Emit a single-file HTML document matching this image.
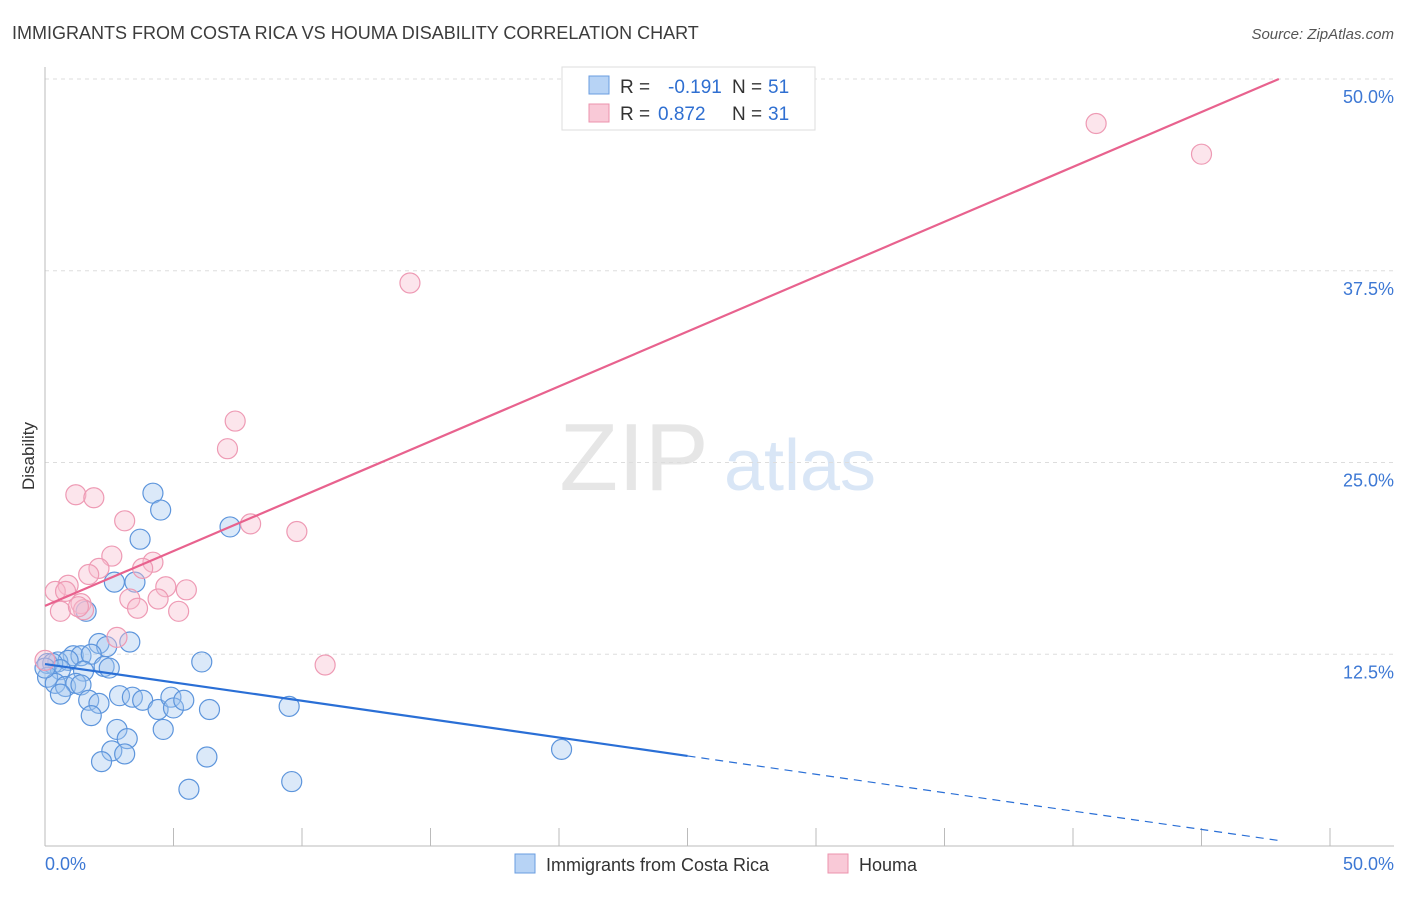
<!DOCTYPE html>
<html><head><meta charset="utf-8"><style>
body{margin:0;background:#fff;font-family:"Liberation Sans",sans-serif}
svg text{font-family:"Liberation Sans",sans-serif}
</style></head><body>
<svg id="c" width="1406" height="892" xmlns="http://www.w3.org/2000/svg">
<text x="12" y="39" font-size="18" fill="#3c3c3c">IMMIGRANTS FROM COSTA RICA VS HOUMA DISABILITY CORRELATION CHART</text>
<text x="1394" y="39" font-size="15" fill="#555" font-style="italic" text-anchor="end">Source: ZipAtlas.com</text>
<text x="634" y="490" font-size="96" fill="#e6e6e6" font-family="Liberation Serif" text-anchor="middle">ZIP</text>
<text x="800" y="490" font-size="72" fill="#d9e6f6" text-anchor="middle">atlas</text>
<text transform="translate(34,456) rotate(-90)" font-size="17" fill="#333" text-anchor="middle">Disability</text>
<g id="grid"></g><g id="axes"></g><g id="marks"></g>
<g>
<rect x="562" y="67" width="253" height="63" fill="#fff" stroke="#ddd"/>
<rect x="589" y="76" width="20" height="18" fill="#b7d3f5" stroke="#6a9de0"/>
<rect x="589" y="104" width="20" height="18" fill="#f9c9d7" stroke="#ec93ae"/>
<text x="620" y="93" font-size="19" fill="#333">R =</text>
<text x="668" y="93" font-size="19" fill="#2f6fd1">-0.191</text>
<text x="732" y="93" font-size="19" fill="#333">N =</text>
<text x="768" y="93" font-size="19" fill="#2f6fd1">51</text>
<text x="620" y="120" font-size="19" fill="#333">R =</text>
<text x="658" y="120" font-size="19" fill="#2f6fd1">0.872</text>
<text x="732" y="120" font-size="19" fill="#333">N =</text>
<text x="768" y="120" font-size="19" fill="#2f6fd1">31</text>
</g>
<g>
<rect x="515" y="854" width="20" height="19" fill="#b7d3f5" stroke="#6a9de0"/>
<text x="546" y="871" font-size="18" fill="#333">Immigrants from Costa Rica</text>
<rect x="828" y="854" width="20" height="19" fill="#f9c9d7" stroke="#ec93ae"/>
<text x="859" y="871" font-size="18" fill="#333">Houma</text>
</g>
</svg>
<script>
const xTicks=[0,5,10,15,20,25,30,35,40,45,50];
const yTicks=[12.5,25,37.5,50];
const blueX=[4.2,4.5,7.2,3.7,2.7,3.5,1.6,2.1,2.4,3.3,1.1,1.4,1.8,0.5,0.9,0.1,0.3,0.6,0.1,1.5,2.3,2.5,6.1,0.4,0.8,1.2,1.4,0.6,1.7,2.1,2.9,3.4,3.8,4.4,4.9,5.0,5.4,6.4,9.5,1.8,2.8,4.6,3.2,2.6,3.1,2.2,6.3,20.1,5.6,9.6,0];
const blueY=[23.0,21.9,20.8,20.0,17.2,17.2,15.3,13.2,13.0,13.3,12.4,12.4,12.5,12.0,12.1,11.9,11.9,11.5,11.0,11.4,11.7,11.6,12.0,10.6,10.4,10.6,10.5,9.9,9.5,9.3,9.8,9.7,9.5,8.9,9.7,9.0,9.5,8.9,9.1,8.5,7.6,7.6,7.0,6.2,6.0,5.5,5.8,6.3,3.7,4.2,11.6];
const pinkX=[40.9,45.0,14.2,7.4,7.1,1.2,1.9,3.1,8.0,9.8,2.6,4.2,2.1,1.7,3.8,0.9,0.4,0.8,4.7,5.5,3.3,4.4,1.4,0.6,1.5,3.6,5.2,2.8,10.9,0,1.3];
const pinkY=[47.1,45.1,36.7,27.7,25.9,22.9,22.7,21.2,21.0,20.5,18.9,18.5,18.1,17.7,18.1,17.0,16.6,16.6,16.9,16.7,16.1,16.1,15.8,15.3,15.4,15.5,15.3,13.6,11.8,12.1,15.6];
const X=v=>45+v/50*1285, Y=v=>846-v/50*767;
const NS='http://www.w3.org/2000/svg';
function mk(tag,attrs,parent){const e=document.createElementNS(NS,tag);for(const k in attrs)e.setAttribute(k,attrs[k]);document.getElementById(parent).appendChild(e);return e;}
yTicks.forEach(t=>{
 const g=mk('line',{x1:45,x2:1394,y1:Y(t),y2:Y(t),stroke:'#ddd','stroke-dasharray':'4,4'},'grid');
 
 
 const l=mk('text',{x:1394,y:Y(t)+24,'font-size':18,fill:'#3d78d4','text-anchor':'end'},'axes');
 l.textContent=t.toFixed(1)+'%';
 
 
});
const ax=mk('line',{x1:45,x2:1394,y1:846,y2:846,stroke:'#bbb'},'axes');


const ay=mk('line',{x1:45,x2:45,y1:67,y2:846,stroke:'#bbb'},'axes');


xTicks.forEach(t=>{
 const tk=mk('line',{x1:X(t),x2:X(t),y1:828,y2:846,stroke:'#bbb'},'axes');
 
 
});
[[0,45,'start'],[50,1394,'end']].forEach(([v,x,a])=>{
 const l=mk('text',{x:x,y:870,'font-size':18,fill:'#3d78d4','text-anchor':a},'axes');
 l.textContent=v.toFixed(1)+'%';
 
 
});
function fit(xs,ys){const n=xs.length;let mx=0,my=0;for(let i=0;i<n;i++){mx+=xs[i];my+=ys[i];}mx/=n;my/=n;let sxy=0,sxx=0;for(let i=0;i<n;i++){sxy+=(xs[i]-mx)*(ys[i]-my);sxx+=(xs[i]-mx)**2;}const b=sxy/sxx;return [my-b*mx,b];}
blueX.forEach((v,i)=>{
 const c=mk('circle',{cx:X(v),cy:Y(blueY[i]),r:10,fill:'rgba(160,196,240,0.38)',stroke:'#5d95dc','stroke-width':1.2},'marks');
 
 
});
pinkX.forEach((v,i)=>{
 const c=mk('circle',{cx:X(v),cy:Y(pinkY[i]),r:10,fill:'rgba(248,190,208,0.4)',stroke:'#ee9ab4','stroke-width':1.2},'marks');
 
 
});
const [ba,bb]=fit(blueX,blueY);
const bl=mk('line',{x1:X(0),y1:Y(ba),x2:X(25),y2:Y(ba+bb*25),stroke:'#2a6fd6','stroke-width':2.2},'marks');


const bd=mk('line',{x1:X(25),y1:Y(ba+bb*25),x2:X(48),y2:Y(ba+bb*48),stroke:'#2a6fd6','stroke-width':1.2,'stroke-dasharray':'8,6'},'marks');


const [pa,pb]=fit(pinkX,pinkY);
const xe=Math.min(50,(50-pa)/pb);
const pl=mk('line',{x1:X(0),y1:Y(pa),x2:X(xe),y2:Y(pa+pb*xe),stroke:'#e8628e','stroke-width':2.2},'marks');


</script>
</body></html>
